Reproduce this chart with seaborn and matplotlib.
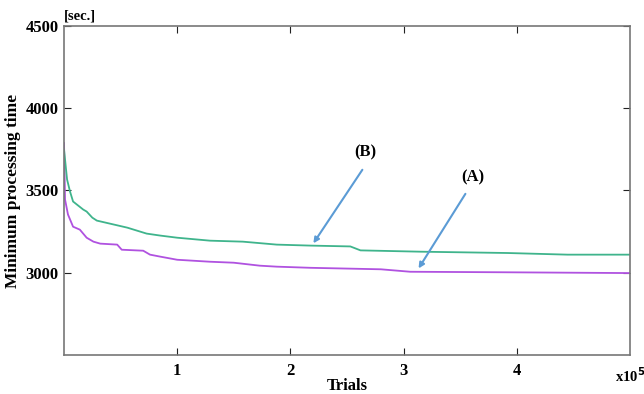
import matplotlib
matplotlib.use("Agg")
import matplotlib.pyplot as plt
import seaborn as sns
import pandas as pd

# Trials (x10^5) and minimum processing time [sec.]
trials_a = [0.0, 0.009, 0.035, 0.08, 0.14, 0.20, 0.26, 0.32, 0.47, 0.51, 0.70, 0.76, 0.85,
            1.0, 1.29, 1.50, 1.73, 1.88, 2.18, 2.8, 3.06, 3.86, 5.0]
time_a = [3790, 3445, 3354, 3280, 3262, 3213, 3189, 3177, 3171, 3140, 3134, 3110, 3098,
          3079, 3067, 3061, 3043, 3037, 3030, 3021, 3006, 3003, 2998]

trials_b = [0.0, 0.027, 0.053, 0.08, 0.17, 0.20, 0.25, 0.29, 0.56, 0.73, 0.85, 1.0, 1.29,
            1.58, 1.88, 2.18, 2.53, 2.62, 3.15, 3.92, 4.45, 5.0]
time_b = [3750, 3567, 3494, 3433, 3384, 3372, 3335, 3317, 3274, 3238, 3226, 3213, 3195,
          3189, 3171, 3165, 3160, 3136, 3128, 3120, 3110, 3110]

x_ticks = [1, 2, 3, 4]
y_ticks = [3000, 3500, 4000, 4500]

df = pd.concat([
    pd.DataFrame({"trials": trials_a, "time": time_a, "series": "(A)"}),
    pd.DataFrame({"trials": trials_b, "time": time_b, "series": "(B)"}),
])

sns.set_style("ticks")
plt.rcParams["font.family"] = ["Liberation Serif", "DejaVu Serif"]
plt.rcParams["font.weight"] = "bold"
plt.rcParams["text.color"] = "black"
plt.rcParams["axes.labelcolor"] = "black"
plt.rcParams["xtick.color"] = "black"
plt.rcParams["ytick.color"] = "black"

fig = plt.figure(figsize=(6.44, 3.94), dpi=100)
ax = fig.add_axes([0.0994, 0.099, 0.8786, 0.835])

sns.lineplot(data=df, x="trials", y="time", hue="series",
             palette={"(A)": "#b052e0", "(B)": "#3fb48c"},
             linewidth=1.3, legend=False, ax=ax, sort=False)

ax.set_xlim(0, 5)
ax.set_ylim(2500, 4500)
ax.set_xticks(x_ticks)
ax.set_xticklabels([str(t) for t in x_ticks], fontweight="bold", fontsize=12)
ax.set_yticks(y_ticks)
ax.set_yticklabels([str(t) for t in y_ticks], fontweight="bold", fontsize=12)
ax.tick_params(direction="in", length=5, top=True, right=True, color="#222222")
ax.tick_params(axis="x", pad=6)
ax.tick_params(axis="y", pad=4)
for s in ax.spines.values():
    s.set_color("#777777")
    s.set_linewidth(1.2)

ax.set_xlabel("Trials", fontweight="bold", fontsize=12)
ax.set_ylabel("Minimum processing time", fontweight="bold", fontsize=12.5)
ax.xaxis.set_label_coords(0.5, -0.07)
ax.yaxis.set_label_coords(-0.076, 0.5)
ax.text(0.0, 1.012, "[sec.]", transform=ax.transAxes, fontsize=10.5, fontweight="bold",
        ha="left", va="bottom")
ax.text(1.0, -0.035, r"x10$^{\mathbf{5}}$", transform=ax.transAxes, fontsize=10.5,
        fontweight="bold", ha="center", va="top")

arrow = dict(arrowstyle="-|>", color="#5b9bd5", lw=1.5, mutation_scale=8)
ax.annotate("", xy=(2.19, 3165), xytext=(2.65, 3640), arrowprops=arrow)
ax.annotate("", xy=(3.12, 3012), xytext=(3.56, 3494), arrowprops=arrow)
ax.text(2.66, 3730, "(B)", fontsize=12, fontweight="bold", ha="center", va="center")
ax.text(3.61, 3580, "(A)", fontsize=12, fontweight="bold", ha="center", va="center")

fig.savefig("out.png", dpi=100)
